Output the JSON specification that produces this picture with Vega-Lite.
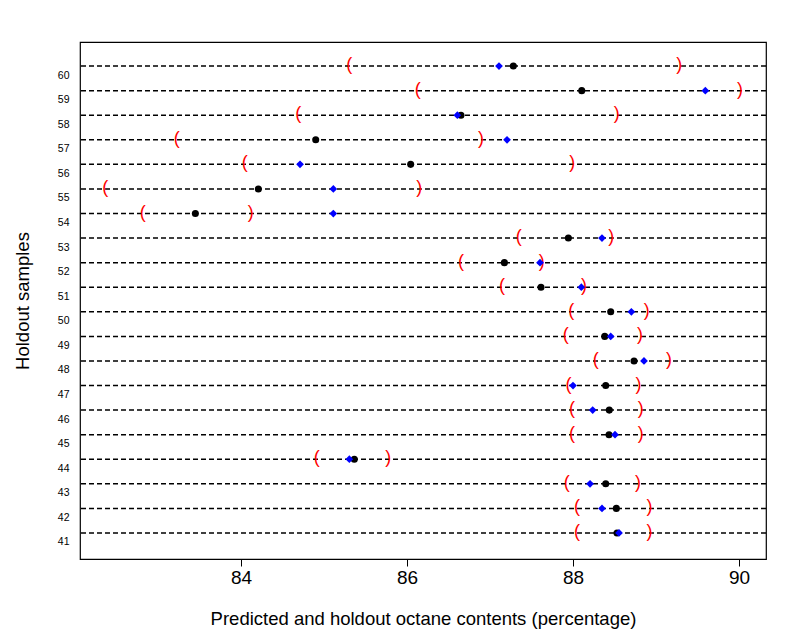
{
  "$schema": "https://vega.github.io/schema/vega-lite/v6.json",
  "width": 686,
  "height": 517,
  "autosize": "none",
  "padding": {"left": 80, "top": 42, "right": 24, "bottom": 73},
  "background": "white",
  "config": {
    "font": "Liberation Sans",
    "view": {"stroke": "black", "strokeWidth": 1.2},
    "axis": {"grid": false, "domain": false, "labelColor": "black", "titleColor": "black", "titleFontWeight": "normal", "tickColor": "black"}
  },
  "data": {
    "values": [
      {"sample": 60, "lower": 85.305, "upper": 89.28, "observed": 87.281, "predicted": 87.108},
      {"sample": 59, "lower": 86.129, "upper": 90.012, "observed": 88.105, "predicted": 89.594},
      {"sample": 58, "lower": 84.69, "upper": 88.526, "observed": 86.65, "predicted": 86.606},
      {"sample": 57, "lower": 83.225, "upper": 86.89, "observed": 84.9, "predicted": 87.205},
      {"sample": 56, "lower": 84.044, "upper": 87.99, "observed": 86.044, "predicted": 84.711},
      {"sample": 55, "lower": 82.365, "upper": 86.147, "observed": 84.209, "predicted": 85.112},
      {"sample": 54, "lower": 82.816, "upper": 84.117, "observed": 83.45, "predicted": 85.112},
      {"sample": 53, "lower": 87.346, "upper": 88.462, "observed": 87.944, "predicted": 88.349},
      {"sample": 52, "lower": 86.651, "upper": 87.623, "observed": 87.173, "predicted": 87.602},
      {"sample": 51, "lower": 87.145, "upper": 88.133, "observed": 87.614, "predicted": 88.1},
      {"sample": 50, "lower": 87.98, "upper": 88.888, "observed": 88.454, "predicted": 88.703},
      {"sample": 49, "lower": 87.912, "upper": 88.807, "observed": 88.382, "predicted": 88.454},
      {"sample": 48, "lower": 88.273, "upper": 89.157, "observed": 88.735, "predicted": 88.855},
      {"sample": 47, "lower": 87.944, "upper": 88.79, "observed": 88.394, "predicted": 88.0},
      {"sample": 46, "lower": 87.988, "upper": 88.815, "observed": 88.437, "predicted": 88.237},
      {"sample": 45, "lower": 87.988, "upper": 88.815, "observed": 88.434, "predicted": 88.506},
      {"sample": 44, "lower": 84.912, "upper": 85.775, "observed": 85.365, "predicted": 85.305},
      {"sample": 43, "lower": 87.924, "upper": 88.783, "observed": 88.394, "predicted": 88.205},
      {"sample": 42, "lower": 88.048, "upper": 88.92, "observed": 88.522, "predicted": 88.349},
      {"sample": 41, "lower": 88.048, "upper": 88.92, "observed": 88.53, "predicted": 88.554}
    ]
  },
  "encoding": {
    "y": {
      "field": "sample",
      "type": "quantitative",
      "scale": {"domain": [39.94, 60.98], "nice": false, "zero": false},
      "axis": {
        "title": "Holdout samples",
        "values": [41,42,43,44,45,46,47,48,49,50,51,52,53,54,55,56,57,58,59,60],
        "ticks": false,
        "labelFontSize": 10.5,
        "labelPadding": 11,
        "labelOffset": 9,
        "titleFontSize": 18.5,
        "titlePadding": 25
      }
    }
  },
  "layer": [
    {
      "mark": {"type": "rule", "color": "black", "strokeDash": [5, 3], "strokeWidth": 1.5},
      "encoding": {}
    },
    {
      "mark": {"type": "text", "text": "(", "color": "#ff0000", "fontSize": 18, "align": "center", "baseline": "middle", "dy": -1},
      "encoding": {
        "x": {
          "field": "lower",
          "type": "quantitative",
          "scale": {"domain": [82.06, 90.325], "nice": false, "zero": false},
          "axis": {
            "title": "Predicted and holdout octane contents (percentage)",
            "values": [84, 86, 88, 90],
            "format": "d",
            "tickSize": 7,
            "labelFontSize": 19,
            "labelPadding": 2,
            "titleFontSize": 18.5,
            "titlePadding": 22
          }
        }
      }
    },
    {
      "mark": {"type": "text", "text": ")", "color": "#ff0000", "fontSize": 18, "align": "center", "baseline": "middle", "dy": -1},
      "encoding": {
        "x": {"field": "upper", "type": "quantitative"}
      }
    },
    {
      "mark": {"type": "point", "shape": "circle", "filled": true, "color": "black", "opacity": 1, "size": 50},
      "encoding": {
        "x": {"field": "observed", "type": "quantitative"}
      }
    },
    {
      "mark": {"type": "point", "shape": "diamond", "filled": true, "color": "#0000ff", "opacity": 1, "size": 60},
      "encoding": {
        "x": {"field": "predicted", "type": "quantitative"}
      }
    }
  ]
}
